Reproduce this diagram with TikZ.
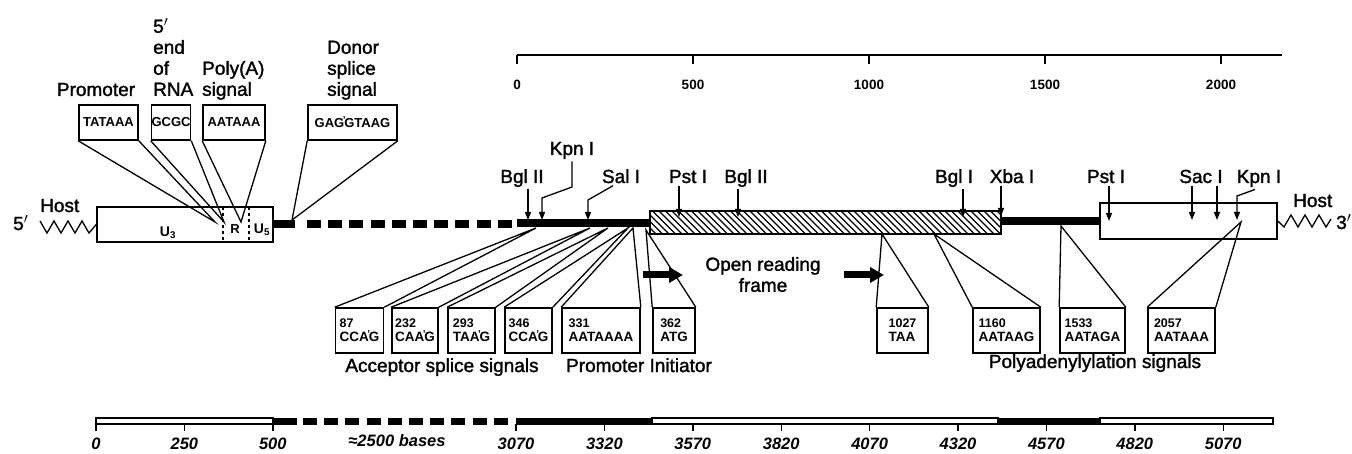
\documentclass[tikz,border=0pt]{standalone}
\usepackage{fontspec}
\setmainfont{Liberation Sans}
\newfontfamily\lblfont{Liberation Sans}[FakeBold=1.5]
\usetikzlibrary{arrows.meta}
\newcommand\myfs[1]{\fontsize{#1}{#1}\selectfont}
\newcommand\numf{\fontsize{12.5}{14}\selectfont}
\newcommand\spmk{\makebox[0pt]{\raisebox{0.55ex}{\fontsize{10}{10}\selectfont\textquoteright}}}
\begin{document}
\begin{tikzpicture}[x=1pt,y=-1pt,
  lbl/.style={font=\lblfont\fontsize{19}{21}\selectfont, inner sep=0pt},
  sitelbl/.style={font=\lblfont\fontsize{19}{21}\selectfont, inner sep=0pt, outer sep=2.5pt, anchor=base},
  tbox/.style={draw, line width=1.6pt, inner sep=0pt, minimum height=35pt, font=\fontsize{13}{14}\selectfont\bfseries},
  bbox/.style={draw, line width=1.6pt, inner sep=0pt, minimum height=45pt, align=left, font=\fontsize{13.5}{14}\selectfont\bfseries},
  conn/.style={line width=1.3pt},
  site/.style={line width=1.3pt, -{Triangle[length=8pt,width=6pt]}},
  heavy/.style={line width=8pt},
  orfarrow/.style={line width=7pt, -{Triangle[length=14pt,width=15pt]}},
  scl/.style={line width=1.8pt},
  sclnum/.style={font=\fontsize{13.5}{14}\selectfont\bfseries, inner sep=0pt, anchor=base},
  botnum/.style={font=\fontsize{16.5}{17}\selectfont\bfseries\itshape, inner sep=0pt, anchor=base},
  ltr/.style={draw, line width=1.6pt, inner sep=0pt, fill=white},
]
\useasboundingbox (0,0) rectangle (1352,454);

% ---------- top scale ----------
\coordinate (ts0) at (517,55);
\coordinate (tsend) at (1282,55);
\draw[scl] (ts0) -- (tsend);
\foreach \x/\t in {517/0,693/500,869/1000,1045/1500,1221/2000}{
  \draw[scl] (\x,55) -- (\x,64);
  \node[sclnum] (tsn\t) at (\x,90) {\t};
}

% ---------- top labels ----------
\node[lbl, anchor=base] (prom) at (96,96) {Promoter};
\node[lbl, align=left, anchor=south west, text depth=0pt] (rna5) at (153,96) {5$'$\\end\\of\\RNA};
\node[lbl, align=left, anchor=south west, text depth=0pt] (polyA) at (202,96) {Poly(A)\\signal};
\node[lbl, align=left, anchor=south west, text depth=0pt] (donor) at (327,96) {Donor\\splice\\signal};

% ---------- top boxes ----------
\node[tbox, minimum width=59pt] (tata) at (108.5,122.5) {TATAAA};
\node[tbox, minimum width=38pt] (gcgc) at (171,122.5) {GCGC};
\node[tbox, minimum width=62pt] (aata) at (234,122.5) {AATAAA};
\node[tbox, minimum width=89pt] (dsig) at (352.5,122.5) {GAG\spmk GTAAG};

% ---------- left host / LTR ----------
\node[lbl, anchor=base west] (p5) at (13,230) {5$'$};
\node[lbl, anchor=base west] (hostL) at (40,212) {Host};
\node[ltr, minimum width=176pt, minimum height=35pt] (ltrL) at (185,224.5) {};
\draw[conn] (40,221) -- (47,233) -- (54,221) -- (61,233) -- (68,221) -- (75,233) -- (82,221) -- (89,233) -- (ltrL.west);
\draw[line width=1.2pt, dash pattern=on 3.5pt off 2.5pt] (223,207) -- (223,242);
\draw[line width=1.2pt, dash pattern=on 3.5pt off 2.5pt] (249,207) -- (249,242);
\node[font=\fontsize{14}{14}\selectfont\bfseries, inner sep=0pt] (u3) at (168,233) {U\textsubscript{3}};
\node[font=\fontsize{13}{13}\selectfont\bfseries, inner sep=0pt] (rr) at (235,229) {R};
\node[font=\fontsize{14}{14}\selectfont\bfseries, inner sep=0pt] (u5) at (262,230) {U\textsubscript{5}};

% connectors from top boxes
\coordinate (ctata) at (215,222);
\coordinate (cgcgc) at (224,222);
\coordinate (caata) at (241,222);
\coordinate (cdsig) at (292,220);
\draw[conn] (tata.south west) -- (ctata) -- (tata.south east);
\draw[conn] (gcgc.south west) -- (cgcgc) -- (gcgc.south east);
\draw[conn] (aata.south west) -- (caata) -- (aata.south east);
\draw[conn] (dsig.south west) -- (cdsig) -- (dsig.south east);

% ---------- main line ----------
\draw[heavy] (273,224) -- (295,224);
\draw[heavy, dash pattern=on 14pt off 7.2pt] (307,224) -- (512,224);
\draw[heavy] (517,223.5) -- (650,223.5);

% hatched ORF box
\begin{scope}
  \clip (650,211) rectangle (1001,234);
  \foreach \x in {620,626.5,...,1005}{
    \draw[line width=1.1pt] (\x,211) -- (\x+23,234);
  }
\end{scope}
\node[draw, line width=1.6pt, inner sep=0pt, minimum width=351pt, minimum height=23pt] (orf) at (825.5,222.5) {};

\draw[heavy] (1001,221) -- (1100,221);
\node[ltr, minimum width=177pt, minimum height=36pt] (ltrR) at (1188.5,221) {};
\draw[conn] (ltrR.east) -- (1284,227) -- (1291,215) -- (1298,227) -- (1305,215) -- (1312,227) -- (1319,215) -- (1326,227) -- (1331,219);
\node[lbl, anchor=base west] (hostR) at (1293,207) {Host};
\node[lbl, anchor=base west] (p3) at (1336,229) {3$'$};

% ---------- restriction sites ----------
\node[sitelbl] (bgl2a) at (522,183) {Bgl II};
\coordinate (tbgl2a) at (528,220);
\draw[site] (bgl2a.south -| tbgl2a) -- (tbgl2a);

\node[sitelbl] (kpn1a) at (572,155) {Kpn I};
\coordinate (tkpn1a) at (542,220);
\draw[site] (kpn1a.south) -- (572,187) -- (542,198) -- (tkpn1a);

\node[sitelbl] (sal1) at (621,183) {Sal I};
\coordinate (tsal1) at (588,220);
\draw[site] ([xshift=-8pt]sal1.south) -- (588,200) -- (tsal1);

\node[sitelbl] (pst1a) at (688,183) {Pst I};
\coordinate (tpst1a) at (679,217);
\draw[site] (pst1a.south -| tpst1a) -- (tpst1a);

\node[sitelbl] (bgl2b) at (746,183) {Bgl II};
\coordinate (tbgl2b) at (738,217);
\draw[site] (bgl2b.south -| tbgl2b) -- (tbgl2b);

\node[sitelbl] (bgl1) at (954,183) {Bgl I};
\coordinate (tbgl1) at (963,217);
\draw[site] (bgl1.south -| tbgl1) -- (tbgl1);

\node[sitelbl] (xba1) at (1012,183) {Xba I};
\coordinate (txba1) at (1001,216);
\draw[site] (xba1.south -| txba1) -- (txba1);

\node[sitelbl] (pst1b) at (1106,183) {Pst I};
\coordinate (tpst1b) at (1109,221);
\draw[site] (pst1b.south -| tpst1b) -- (tpst1b);

\node[sitelbl] (sac1) at (1201,183) {Sac I};
\coordinate (tsac1) at (1192,220);
\coordinate (tsac2) at (1217,220);
\draw[site] (sac1.south -| tsac1) -- (tsac1);
\draw[site] (sac1.south -| tsac2) -- (tsac2);

\node[sitelbl] (kpn1b) at (1259,183) {Kpn I};
\coordinate (tkpn1b) at (1237,220);
\draw[site] ([xshift=-4pt]kpn1b.south) -- (1237,196) -- (tkpn1b);

% ---------- bottom boxes ----------
\node[bbox, minimum width=48pt] (b87)   at (359.5,330.5) {{\numf 87}\\CCA\spmk G};
\node[bbox, minimum width=46pt] (b232)  at (415,330.5)   {{\numf 232}\\CAA\spmk G};
\node[bbox, minimum width=47pt] (b293)  at (471.5,330.5) {{\numf 293}\\TAA\spmk G};
\node[bbox, minimum width=47pt] (b346)  at (528.5,330.5) {{\numf 346}\\CCA\spmk G};
\node[bbox, minimum width=78pt] (b331)  at (601,330.5)   {{\numf 331}\\AATAAAA};
\node[bbox, minimum width=42pt] (b362)  at (674,330.5)   {{\numf 362}\\ATG};
\node[bbox, minimum width=51pt] (b1027) at (902.5,330.5) {{\numf 1027}\\TAA};
\node[bbox, minimum width=67pt] (b1160) at (1006.5,330.5){{\numf 1160}\\AATAAG};
\node[bbox, minimum width=65pt] (b1533) at (1092.5,330.5){{\numf 1533}\\AATAGA};
\node[bbox, minimum width=67pt] (b2057) at (1181.5,330.5){{\numf 2057}\\AATAAA};

\coordinate (c87) at (536,228);
\coordinate (c232) at (590,228);
\coordinate (c293) at (608,228);
\coordinate (c346) at (628,228);
\coordinate (c331) at (633,228);
\coordinate (c362) at (646,230);
\coordinate (c1027) at (882,234);
\coordinate (c1160) at (934,234);
\coordinate (c1533) at (1061,226);
\coordinate (c2057) at (1241,222);
\foreach \b in {87,232,293,346,331,362,1027,1160,1533,2057}{
  \draw[conn] (b\b.north west) -- (c\b) -- (b\b.north east);
}

% ---------- ORF arrows & labels ----------
\coordinate (o1a) at (643,275); \coordinate (o1b) at (683,275);
\coordinate (o2a) at (844,275); \coordinate (o2b) at (884,275);
\draw[orfarrow] (o1a) -- (o1b);
\draw[orfarrow] (o2a) -- (o2b);
\node[lbl, align=center, anchor=south, text depth=0pt] (orftxt) at (763,292) {Open reading\\frame};

\node[lbl, anchor=base] (acc) at (442,372) {Acceptor splice signals};
\node[lbl, anchor=base] (pinit) at (639,372) {Promoter Initiator};
\node[lbl, anchor=base] (polyad) at (1095,368) {Polyadenylylation signals};

% ---------- bottom scale ----------
\draw[line width=1.4pt, fill=white] (96,418) rectangle (273,424);
\fill (273,417.5) rectangle (297,424.5);
\draw[line width=7pt, dash pattern=on 14pt off 7.2pt] (303,421) -- (512,421);
\fill (516,417.5) rectangle (652,424.5);
\draw[line width=1.4pt, fill=white] (652,418) rectangle (998,424);
\fill (998,417.5) rectangle (1100,424.5);
\draw[line width=1.4pt, fill=white] (1100,418) rectangle (1273,424);
\foreach \x/\t in {96/0,184.4/250,272.8/500,516/3070,604.4/3320,692.8/3570,781.2/3820,869.6/4070,958/4320,1046.4/4570,1134.8/4820,1223.2/5070}{
  \draw[line width=1.4pt] (\x,424) -- (\x,431);
  \node[botnum] (bsn\t) at (\x,449) {\t};
}
\node[botnum] (approx) at (397,446) {≈2500 bases};
\end{tikzpicture}
\end{document}
